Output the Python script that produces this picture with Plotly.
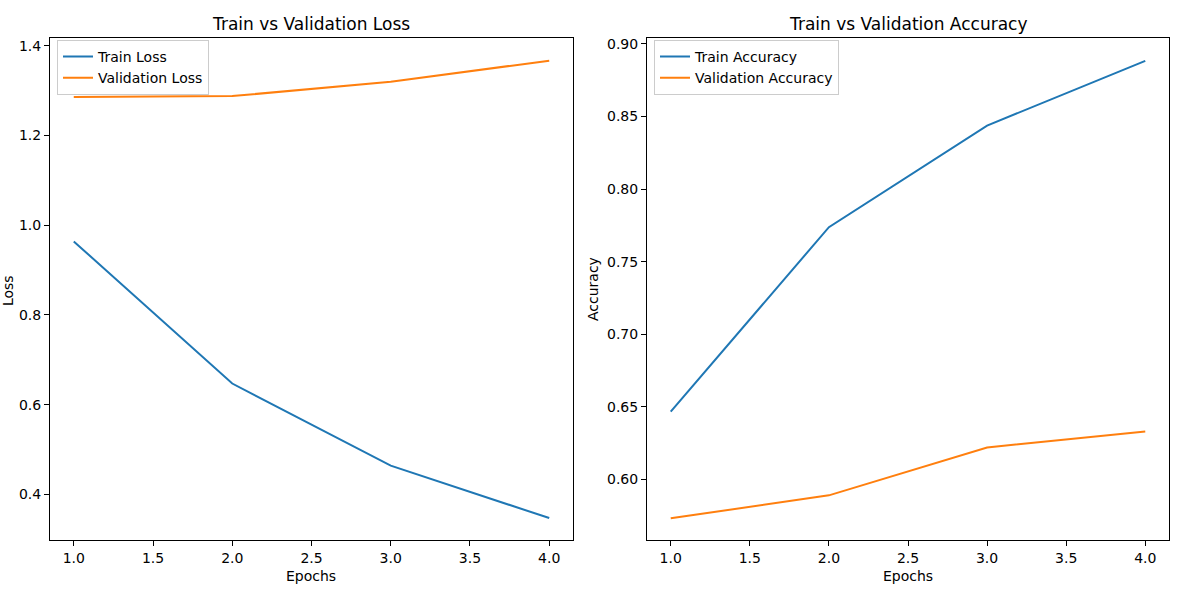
import plotly.graph_objects as go

epochs = [1, 2, 3, 4]
train_loss = [0.964, 0.647, 0.464, 0.347]
val_loss = [1.286, 1.288, 1.320, 1.367]
train_acc = [0.6467, 0.7737, 0.8437, 0.8883]
val_acc = [0.5732, 0.5890, 0.6220, 0.6330]

BLUE = "#1f77b4"
ORANGE = "#ff7f0e"
FONT = "DejaVu Sans"
W, H = 1182, 607

def px(x):
    return x / W

def py(y):
    return 1 - y / H

fig = go.Figure()
fig.add_trace(go.Scatter(x=epochs, y=train_loss, mode="lines", name="Train Loss",
                         line=dict(color=BLUE, width=2), xaxis="x", yaxis="y", legend="legend"))
fig.add_trace(go.Scatter(x=epochs, y=val_loss, mode="lines", name="Validation Loss",
                         line=dict(color=ORANGE, width=2), xaxis="x", yaxis="y", legend="legend"))
fig.add_trace(go.Scatter(x=epochs, y=train_acc, mode="lines", name="Train Accuracy",
                         line=dict(color=BLUE, width=2), xaxis="x2", yaxis="y2", legend="legend2"))
fig.add_trace(go.Scatter(x=epochs, y=val_acc, mode="lines", name="Validation Accuracy",
                         line=dict(color=ORANGE, width=2), xaxis="x2", yaxis="y2", legend="legend2"))

axis_common = dict(showline=True, linecolor="black", linewidth=1, mirror=True,
                   ticks="outside", ticklen=5, tickwidth=1, tickcolor="black",
                   showgrid=False, zeroline=False,
                   tickfont=dict(family=FONT, size=14, color="black"))

xtick = dict(tickmode="array", tickvals=[1, 1.5, 2, 2.5, 3, 3.5, 4],
             ticktext=["1.0", "1.5", "2.0", "2.5", "3.0", "3.5", "4.0"])

legend_common = dict(bgcolor="rgba(255,255,255,0.8)", bordercolor="#cccccc", borderwidth=1,
                     font=dict(family=FONT, size=14, color="black"),
                     xanchor="left", yanchor="top", tracegroupgap=0, itemwidth=30)

def text_ann(text, x, y, size=14, angle=0):
    return dict(text=text, x=px(x), y=py(y), xref="paper", yref="paper", showarrow=False,
                xanchor="center", yanchor="middle", textangle=angle,
                font=dict(family=FONT, size=size, color="black"))

fig.update_layout(
    width=W, height=H,
    margin=dict(l=0, r=0, t=0, b=0),
    paper_bgcolor="white", plot_bgcolor="white",
    font=dict(family=FONT, size=14, color="black"),
    xaxis=dict(domain=[px(50), px(573)], range=[0.85, 4.15], anchor="y", **xtick, **axis_common),
    yaxis=dict(domain=[py(540), py(36)], range=[0.2976, 1.4178], anchor="x",
               tickvals=[0.4, 0.6, 0.8, 1.0, 1.2, 1.4],
               ticktext=["0.4", "0.6", "0.8", "1.0", "1.2", "1.4"], **axis_common),
    xaxis2=dict(domain=[px(647), px(1169)], range=[0.85, 4.15], anchor="y2", **xtick, **axis_common),
    yaxis2=dict(domain=[py(540), py(36)], range=[0.5581, 0.9041], anchor="x2",
                tickvals=[0.60, 0.65, 0.70, 0.75, 0.80, 0.85, 0.90],
                ticktext=["0.60", "0.65", "0.70", "0.75", "0.80", "0.85", "0.90"], **axis_common),
    legend=dict(x=px(57), y=py(38), **legend_common),
    legend2=dict(x=px(654), y=py(38), **legend_common),
    annotations=[
        text_ann("Train vs Validation Loss", 311, 22, size=17),
        text_ann("Train vs Validation Accuracy", 908, 22, size=17),
        text_ann("Epochs", 311, 576),
        text_ann("Epochs", 908, 576),
        text_ann("Loss", 8, 290, angle=-90),
        text_ann("Accuracy", 593, 288, angle=-90),
    ],
)

fig.write_html("out.html",
               config={"displayModeBar": False},
               post_script="document.body.style.margin='0';document.body.style.overflow='hidden';")
